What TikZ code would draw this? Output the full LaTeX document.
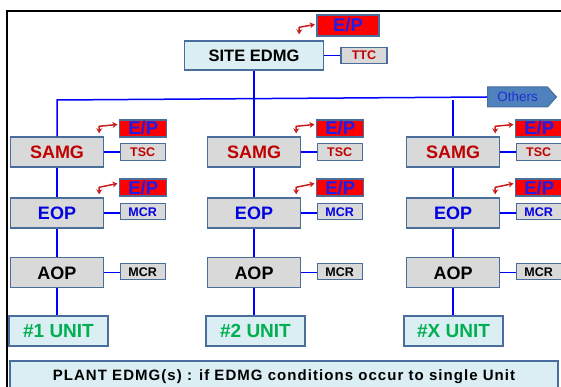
\documentclass[tikz,border=0pt]{standalone}
\usepackage{fontspec}
\setmainfont{Liberation Sans}
\newfontfamily\wideplant[LetterSpace=7]{Liberation Sans}
\usetikzlibrary{arrows.meta,shapes.symbols,calc}
\definecolor{bord}{RGB}{74,110,155}
\definecolor{grayf}{RGB}{217,217,217}
\definecolor{lightb}{RGB}{218,238,243}
\definecolor{samgred}{RGB}{192,0,0}
\definecolor{eopblue}{RGB}{0,0,225}
\definecolor{epblue}{RGB}{30,30,235}
\definecolor{unitgreen}{RGB}{0,176,80}
\definecolor{connblue}{RGB}{0,0,255}
\definecolor{arrred}{RGB}{200,30,30}
\definecolor{othfill}{RGB}{79,129,189}
\definecolor{othtext}{RGB}{30,50,210}
\tikzset{
  bx/.style={rectangle, draw=bord, line width=1.4pt, inner sep=0pt},
  mainbox/.style={bx, fill=grayf, minimum width=93pt, minimum height=30pt,
    font=\bfseries\fontsize{18}{18}\selectfont, text height=13pt, text depth=0pt},
  epbox/.style={bx, fill=red, text=epblue, minimum width=47pt, minimum height=17pt,
    font=\bfseries\fontsize{18.5}{18.5}\selectfont, text height=13pt, text depth=0pt},
  smallbox/.style={bx, fill=grayf, minimum width=45pt, minimum height=16.5pt,
    font=\bfseries\fontsize{12.5}{12.5}\selectfont, text height=9pt, text depth=0pt},
  unitbox/.style={bx, fill=lightb, text=unitgreen, minimum width=99pt, minimum height=30pt,
    font=\bfseries\fontsize{19}{19}\selectfont, text height=13.5pt, text depth=0pt},
  conn/.style={draw=connblue, line width=1.5pt},
  eparrow/.style={draw=arrred, line width=1.5pt, line join=round, {Stealth[length=5pt,width=6pt]}-{Stealth[length=5pt,width=6pt]}},
}
\begin{document}
\begin{tikzpicture}[x=1pt,y=-1pt]
\useasboundingbox (0,0) rectangle (561,387);
% frame
\draw[black, line width=2.3pt] (7,390) -- (7,11) -- (563,11);

% site level
\node[bx, fill=lightb, minimum width=139pt, minimum height=29pt,
  font=\bfseries\fontsize{16.5}{16.5}\selectfont, text height=12pt, text depth=0pt] (site) at (254,55.5) {SITE EDMG};
\node[epbox, minimum width=62pt, minimum height=21pt] (eps) at (348,25.5) {E/P};
\node[smallbox, text=samgred, minimum width=46pt] (ttc) at (364,55.5) {TTC};
\draw[conn] (site.east) -- (ttc.west);
\draw[eparrow] ([xshift=-25pt,yshift=6pt]site.north east) -- ++(0,-7) -- ([xshift=-1.5pt,yshift=1pt]eps.west);

% others
\node[signal, signal to=east, signal pointer angle=96, draw=bord, line width=1pt, fill=othfill,
  text=othtext, minimum width=69pt, minimum height=20pt, inner sep=0pt,
  font=\fontsize{13.5}{13.5}\selectfont, text height=9.5pt, text depth=0pt] (oth) at (517.5,97) {Others};

% columns
\foreach \i/\cx/\ux/\lab in {1/57/58.5/\#1 UNIT, 2/254/255.5/\#2 UNIT, 3/453/453.5/\#X UNIT}{
  \node[mainbox, text=samgred] (samg\i) at (\cx,152) {SAMG};
  \node[mainbox, text=eopblue] (eop\i) at (\cx,213) {EOP};
  \node[mainbox, text=black] (aop\i) at (\cx,272.5) {AOP};
  \node[unitbox] (unit\i) at (\ux,331) {\lab};
  \node[epbox] (epa\i) at ($(samg\i.east)+(39pt,23.5pt)$) {E/P};
  \node[epbox] (epb\i) at ($(eop\i.east)+(39pt,25.5pt)$) {E/P};
  \node[smallbox, text=samgred] (tsc\i) at ($(samg\i.east)+(38.5pt,0)$) {TSC};
  \node[smallbox, text=eopblue] (mcra\i) at ($(eop\i.east)+(38.5pt,1.5pt)$) {MCR};
  \node[smallbox, text=black] (mcrb\i) at ($(aop\i.east)+(38.5pt,1pt)$) {MCR};
  \draw[conn] (samg\i.east) -- (tsc\i.west);
  \draw[conn] (eop\i.east) -- (eop\i.east -| mcra\i.west);
  \draw[conn] (aop\i.east) -- (aop\i.east -| mcrb\i.west);
  \draw[conn] (samg\i.south) -- (eop\i.north);
  \draw[conn] (eop\i.south) -- (aop\i.north);
  \draw[conn] (aop\i.south) -- (aop\i.south |- unit\i.north);
  \draw[eparrow] ([xshift=-5pt,yshift=3pt]samg\i.north east) -- ++(0,-7) -- ([xshift=-1.5pt,yshift=4pt]epa\i.west);
  \draw[eparrow] ([xshift=-5pt,yshift=3pt]eop\i.north east) -- ++(0,-7) -- ([xshift=-1.5pt,yshift=4pt]epb\i.west);
}
% bus
\coordinate (b1) at (57,100);
\coordinate (b3) at (453,100);
\draw[conn] (samg1.north) -- (b1) -- (oth.west);
\draw[conn] (b3) -- (samg3.north);
\draw[conn] (site.south) -- (samg2.north);

% plant
\node[bx, fill=lightb, minimum width=548pt, minimum height=29pt,
  font=\wideplant\bfseries\fontsize{15}{15}\selectfont, text height=10.5pt, text depth=0pt] (plant) at (284,375.5)
  {PLANT EDMG(s) : if EDMG conditions occur to single Unit};
\end{tikzpicture}
\end{document}
